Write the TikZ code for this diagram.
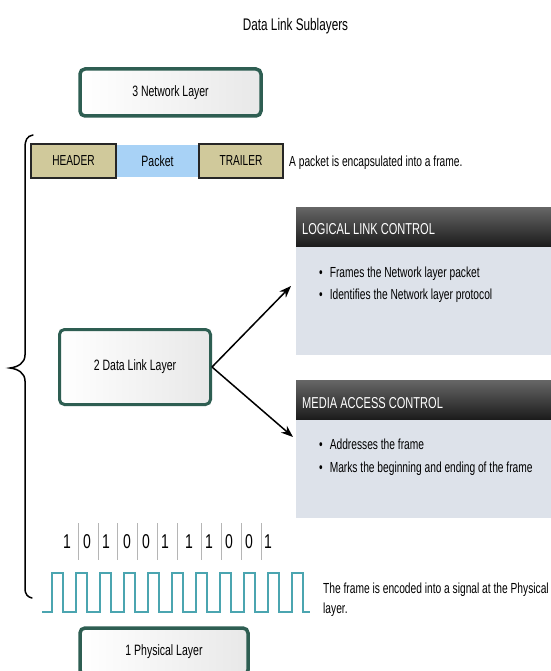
\documentclass[tikz,border=0pt]{standalone}
\usepackage{fontspec}
\setmainfont{Liberation Sans}[FakeStretch=0.7]
\usetikzlibrary{arrows.meta}
\definecolor{boxgreen}{HTML}{2E5E52}
\definecolor{khaki}{HTML}{D0C99B}
\definecolor{pktblue}{HTML}{A8D2F6}
\definecolor{panel}{HTML}{DDE2EA}
\definecolor{hdtop}{HTML}{666666}
\definecolor{hdbot}{HTML}{1C1C1C}
\definecolor{wave}{HTML}{4BA5B0}
\definecolor{sepgray}{HTML}{B5B5B5}
\newcommand\fsz[1]{\fontsize{#1}{#1}\selectfont}
\tikzset{
  layerbox/.style={draw=boxgreen, line width=3.5pt, rounded corners=5pt,
    left color=white, right color=black!9, font=\fsz{15}, inner sep=0pt},
  framecell/.style={draw=black!85, line width=1.5pt, fill=khaki, font=\fsz{14.5}, inner sep=0pt},
  pktcell/.style={fill=pktblue, font=\fsz{15}, inner sep=0pt},
  panelhead/.style={top color=hdtop, bottom color=hdbot, draw=none, inner sep=0pt},
  panelbody/.style={fill=panel, draw=none, inner sep=0pt},
  headtext/.style={font=\fsz{15.8}, text=white, anchor=base west, inner sep=0pt},
  bodytext/.style={font=\fsz{14.6}, anchor=base west, inner sep=0pt},
  bit/.style={font=\fsz{20}, anchor=base, inner sep=0pt},
  linkarrow/.style={line width=1.5pt, -{Stealth[length=12pt,width=9pt]}},
}
\begin{document}
\begin{tikzpicture}[x=1pt,y=-1pt]
\useasboundingbox[fill=white] (0,0) rectangle (550,671);

% title
\node[font=\fsz{16.8}, anchor=base, inner sep=0pt] (title) at (295.5,31) {Data Link Sublayers};

% layer boxes
\node[layerbox, minimum width=181pt, minimum height=47pt] (net) at (170.5,92.5) {3 Network Layer};
\node[layerbox, line width=3pt, minimum width=151pt, minimum height=75pt] (dl) at (135,367) {2 Data Link Layer};
\node[layerbox, minimum width=168pt, minimum height=47pt] (phy) at (164,651.5) {1 Physical Layer};

% frame
\node[pktcell, minimum width=83pt, minimum height=32pt] (pkt) at (157.5,161) {Packet};
\node[framecell, minimum width=85pt, minimum height=34pt] (hdr) at (73.5,161) {HEADER};
\node[framecell, minimum width=84pt, minimum height=34pt] (trl) at (241,161) {TRAILER};
\node[bodytext] (encap) at (289,167) {A packet is encapsulated into a frame.};

% LLC panel
\node[panelbody, anchor=north west, minimum width=256pt, minimum height=109pt] (llcbody) at (296,246) {};
\node[panelhead, anchor=north west, minimum width=256pt, minimum height=39pt] (llchead) at (296,207) {};
\node[headtext] (llct) at (302,234) {LOGICAL LINK CONTROL};
\node[bodytext] (llc1) at (319,277) {\textbullet\hspace{7pt}Frames the Network layer packet};
\node[bodytext] (llc2) at (319,299) {\textbullet\hspace{7pt}Identifies the Network layer protocol};

% MAC panel
\node[panelbody, anchor=north west, minimum width=256pt, minimum height=99pt] (macbody) at (296,419) {};
\node[panelhead, anchor=north west, minimum width=256pt, minimum height=39pt] (machead) at (296,380) {};
\node[headtext] (mact) at (302,408) {MEDIA ACCESS CONTROL};
\node[bodytext] (mac1) at (319,449) {\textbullet\hspace{7pt}Addresses the frame};
\node[bodytext] (mac2) at (319,472) {\textbullet\hspace{7pt}Marks the beginning and ending of the frame};

% arrows
\coordinate (llcin) at (291,286);
\coordinate (macin) at (293,437);
\draw[linkarrow] (dl.east) -- (llcin);
\draw[linkarrow] (dl.east) -- (macin);

% brace
\draw[line width=1.5pt, line cap=round] (33,135) .. controls (27,136) and (25,140) .. (25,148)
  -- (25,355) .. controls (25,363) and (18,367) .. (10,368)
  .. controls (18,369) and (25,373) .. (25,381)
  -- (25,588) .. controls (25,595) and (28,597) .. (32,598);

% bits
\foreach \x in {78,98,117,137,157,177,201,221,241,261}
  \draw[sepgray, line width=0.8pt] (\x,523) -- (\x,560);
\foreach \x/\b [count=\i] in {67/1,87/0,106/1,127/0,146/0,165/1,189/1,209/1,229/0,249/0,268/1}
  \node[bit] (b\i) at (\x,548) {\b};

% waveform
\draw[wave, line width=1.2pt] (42,612)
  \foreach \k in {0,...,10} { -- ({52+24*\k},612) -- ({52+24*\k},573) -- ({63+24*\k},573) -- ({63+24*\k},612) }
  -- (310,612);
\node[bodytext] (sig1) at (323,593) {The frame is encoded into a signal at the Physical};
\node[bodytext] (sig2) at (323,613) {layer.};
\end{tikzpicture}
\end{document}
